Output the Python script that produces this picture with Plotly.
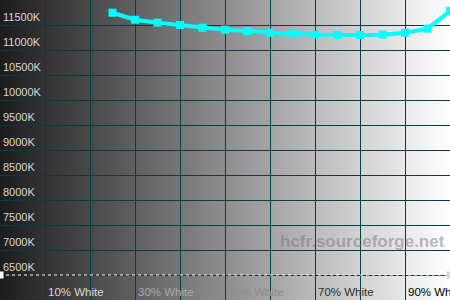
import plotly.graph_objects as go
import urllib.parse

# Data
levels_pct = [25, 30, 35, 40, 45, 50, 55, 60, 65, 70, 75, 80, 85, 90, 95, 100]
color_temp_k = [11745, 11605, 11547, 11500, 11447, 11407, 11380, 11347, 11327,
                11307, 11300, 11300, 11307, 11347, 11427, 11780]
ref_x = [0, 100]
ref_temp = [6500, 6500]
y_ticks = [6500, 7000, 7500, 8000, 8500, 9000, 9500, 10000, 10500, 11000, 11500]
y_labels = [f"{v}K" for v in y_ticks]
x_grid = [10, 20, 30, 40, 50, 60, 70, 80, 90]
x_label_pos = [10, 30, 50, 70, 90]
x_labels = ["10% White", "30% White", "50% White", "70% White", "90% White"]
x_label_colors = ["#d8d8d8", "#a8a8a8", "#8c8c8c", "#303030", "#000000"]

svg = ("<svg xmlns='http://www.w3.org/2000/svg' width='450' height='300' preserveAspectRatio='none'>"
       "<defs><linearGradient id='g' x1='0' y1='0' x2='1' y2='0'>"
       "<stop offset='0' stop-color='#1c1c1c'/><stop offset='1' stop-color='#ffffff'/>"
       "</linearGradient></defs><rect width='450' height='300' fill='url(#g)'/></svg>")
svg_uri = "data:image/svg+xml;charset=utf-8," + urllib.parse.quote(svg)

fig = go.Figure()
fig.add_trace(go.Scatter(
    x=ref_x, y=ref_temp, mode="lines+markers",
    line=dict(color="white", width=1, dash="3px,3px"),
    marker=dict(symbol="square", size=7, color=["#ffffff", "#d8d8d8"]),
    hoverinfo="skip", showlegend=False))
fig.add_trace(go.Scatter(
    x=levels_pct, y=color_temp_k, mode="lines+markers",
    line=dict(color="#00ffff", width=4),
    marker=dict(symbol="square", size=8, color="#00ffff"),
    showlegend=False))

annotations = [dict(text=t, x=p, y=1 - 292 / 300, xref="x", yref="paper",
                    xanchor="left", yanchor="middle", xshift=1, showarrow=False,
                    font=dict(size=11.5, color=c,
                              family="Liberation Sans, Arial, sans-serif"))
               for t, p, c in zip(x_labels, x_label_pos, x_label_colors)]
annotations.append(dict(text="<b>hcfr.sourceforge.net</b>", x=362 / 450 * 100,
                        y=1 - 253 / 300, xref="x", yref="paper", showarrow=False,
                        font=dict(size=17, color="rgba(120,120,120,0.5)",
                                  family="Liberation Sans, Arial, sans-serif")))

fig.update_layout(
    width=450, height=300,
    margin=dict(l=0, r=0, t=0, b=0),
    paper_bgcolor="#ffffff",
    plot_bgcolor="rgba(0,0,0,0)",
    font=dict(family="Liberation Sans, Arial, sans-serif", size=11),
    images=[dict(source=svg_uri, xref="paper", yref="paper", x=0, y=1,
                 sizex=1, sizey=1, sizing="stretch", layer="below")],
    xaxis=dict(range=[0, 100], tickvals=x_grid, showticklabels=False,
               showgrid=True, gridcolor="#004040", gridwidth=1, zeroline=False,
               showline=False, ticks="", fixedrange=True, automargin=False),
    yaxis=dict(range=[6000, 12000], tickvals=y_ticks, ticktext=y_labels,
               ticklabelposition="inside top", showgrid=True,
               gridcolor="#004040", gridwidth=1, zeroline=False,
               showline=False, ticks="", tickfont=dict(color="#d8d8d8", size=11),
               fixedrange=True, automargin=False),
    annotations=annotations,
)

fig.write_html("out.html")
